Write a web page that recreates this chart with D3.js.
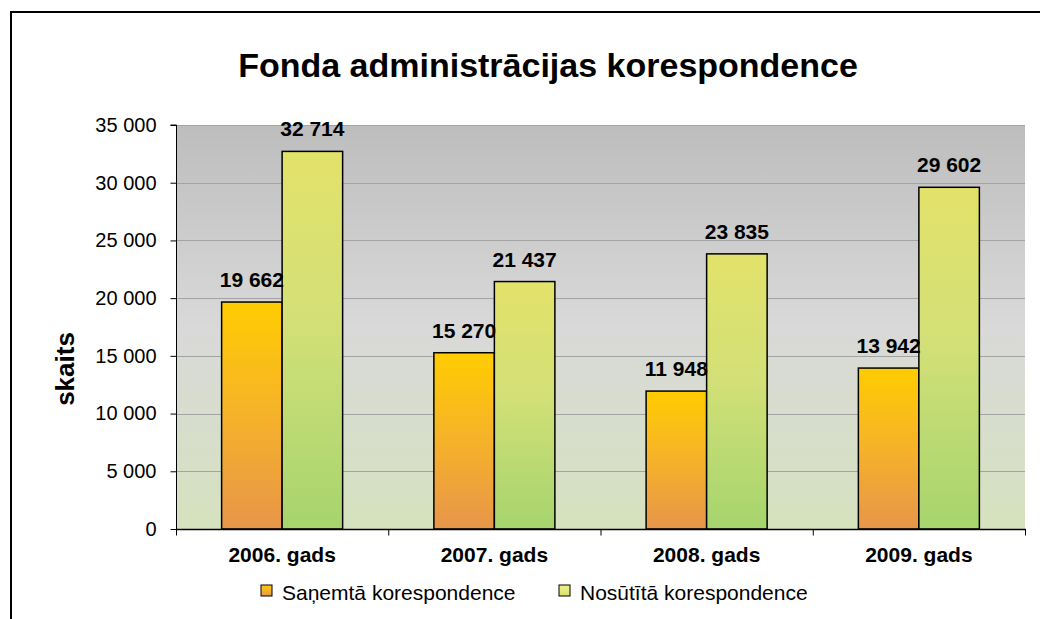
<!DOCTYPE html>
<html>
<head>
<meta charset="utf-8">
<script src="https://cdn.jsdelivr.net/npm/d3@7"></script>
<style>
  body { margin: 0; background: #fff; }
  svg { display: block; font-family: "Liberation Sans", Arial, sans-serif; }
</style>
</head>
<body>
<svg width="1040" height="619"></svg>
<script>
// chart data
let categories = ['2006. gads', '2007. gads', '2008. gads', '2009. gads'];
let seriesNames = ['Saņemtā korespondence', 'Nosūtītā korespondence'];
let received = [19662, 15270, 11948, 13942];
let sent = [32714, 21437, 23835, 29602];
let yTicks = [0, 5000, 10000, 15000, 20000, 25000, 30000, 35000];

let svg = d3.select('svg');
let svgWidth = +svg.attr('width');
let svgHeight = +svg.attr('height');

let plot = {l: 176, r: 1025, t: 125, b: 529};

let fmt = v => d3.format(',')(v).replace(/,/g, ' ');

// gradients
let defs = svg.append('defs');
function addGrad(id, stops) {
    let g = defs.append('linearGradient').attr('id', id)
        .attr('x1', 0).attr('y1', 0).attr('x2', 0).attr('y2', 1);
    stops.forEach(s => g.append('stop').attr('offset', s[0]).attr('stop-color', s[1]));
}
addGrad('bgGrad', [[0, '#bdbdbd'], [0.5, '#d9d9d9'], [1, '#d6e2be']]);
addGrad('orangeGrad', [[0, '#ffcc00'], [0.45, '#f6b526'], [1, '#e8954a']]);
addGrad('greenGrad', [[0, '#e3e26a'], [0.45, '#d3e077'], [1, '#a6d46e']]);
addGrad('greenLegGrad', [[0, '#eef08a'], [1, '#d9e46e']]);

// outer frame (runs past the page on right and bottom)
svg.append('rect')
    .attr('x', 11).attr('y', 12)
    .attr('width', svgWidth + 20).attr('height', svgHeight + 20)
    .attr('fill', 'none').attr('stroke', '#000').attr('stroke-width', 2);

// scales
let x0 = d3.scaleBand().domain(categories).range([plot.l, plot.r]).padding(0);
let x1 = d3.scaleBand().domain(seriesNames).range([0, x0.bandwidth()])
    .paddingInner(0).paddingOuter(0.754);
let y = d3.scaleLinear().domain([0, 35000]).range([plot.b, plot.t]);

// plot background
svg.append('rect')
    .attr('x', plot.l).attr('y', plot.t)
    .attr('width', plot.r - plot.l).attr('height', plot.b - plot.t)
    .attr('fill', 'url(#bgGrad)');

// gridlines
svg.append('g').selectAll('line')
    .data(yTicks.filter(d => d > 0))
    .join('line')
    .attr('x1', plot.l).attr('x2', plot.r)
    .attr('y1', d => Math.round(y(d)) + 0.5).attr('y2', d => Math.round(y(d)) + 0.5)
    .attr('stroke', '#a3a3a3').attr('stroke-width', 1);

// title
svg.append('text')
    .attr('x', 548).attr('y', 77)
    .attr('text-anchor', 'middle')
    .attr('font-weight', 'bold')
    .attr('font-size', '34px')
    .text('Fonda administrācijas korespondence');

// y axis title
svg.append('text')
    .attr('transform', 'translate(74,' + 369 + ') rotate(-90)')
    .attr('text-anchor', 'middle')
    .attr('font-weight', 'bold')
    .attr('font-size', '26px')
    .text('skaits');

// bars
let series = [received, sent];
let fills = ['url(#orangeGrad)', 'url(#greenGrad)'];
let groups = svg.append('g').selectAll('g')
    .data(categories)
    .join('g')
    .attr('transform', d => 'translate(' + x0(d) + ',0)');

groups.selectAll('rect')
    .data((d, i) => seriesNames.map((s, j) => ({s: s, j: j, v: series[j][i]})))
    .join('rect')
    .attr('x', d => x1(d.s))
    .attr('y', d => y(d.v))
    .attr('width', x1.bandwidth())
    .attr('height', d => y(0) - y(d.v))
    .attr('fill', d => fills[d.j])
    .attr('stroke', '#000').attr('stroke-width', 1.5);

groups.selectAll('text')
    .data((d, i) => seriesNames.map((s, j) => ({s: s, j: j, v: series[j][i]})))
    .join('text')
    .attr('x', d => x1(d.s) + x1.bandwidth() / 2)
    .attr('y', d => y(d.v) - 15)
    .attr('text-anchor', 'middle')
    .attr('font-weight', 'bold')
    .attr('font-size', '21px')
    .text(d => fmt(d.v));

// y axis
let yAxis = d3.axisLeft(y).tickValues(yTicks).tickSize(6).tickPadding(14).tickFormat(fmt);
let yG = svg.append('g')
    .attr('transform', 'translate(' + (plot.l + 0.5) + ',0)')
    .call(yAxis);
yG.selectAll('text').attr('font-size', '20px').attr('font-family', null).attr('fill', '#000');
yG.selectAll('line').attr('stroke', '#000');
yG.select('.domain').attr('stroke', '#000').attr('d', 'M-6,' + plot.t + 'H0V' + plot.b);

// x axis
let xG = svg.append('g')
    .attr('transform', 'translate(0,' + (plot.b + 0.5) + ')');
xG.append('line')
    .attr('x1', plot.l).attr('x2', plot.r + 1)
    .attr('stroke', '#000').attr('stroke-width', 1.5);
xG.selectAll('line.tick')
    .data(categories.map(c => x0(c)).concat([plot.r]))
    .join('line')
    .attr('class', 'tick')
    .attr('x1', d => d + 0.5).attr('x2', d => d + 0.5)
    .attr('y1', 0).attr('y2', 6)
    .attr('stroke', '#000');
xG.selectAll('text')
    .data(categories)
    .join('text')
    .attr('x', d => x0(d) + x0.bandwidth() / 2)
    .attr('y', 32)
    .attr('text-anchor', 'middle')
    .attr('font-weight', 'bold')
    .attr('font-size', '21px')
    .text(d => d);

// legend
let legendX = [261, 559];
let legFills = ['url(#orangeGrad)', 'url(#greenLegGrad)'];
let leg = svg.append('g').selectAll('g')
    .data(seriesNames)
    .join('g')
    .attr('transform', (d, i) => 'translate(' + legendX[i] + ',585)');
leg.append('rect')
    .attr('width', 11).attr('height', 11)
    .attr('fill', (d, i) => legFills[i])
    .attr('stroke', '#000').attr('stroke-width', 1);
leg.append('text')
    .attr('x', 21).attr('y', 15)
    .attr('font-size', '21px')
    .text(d => d);
</script>
</body>
</html>
